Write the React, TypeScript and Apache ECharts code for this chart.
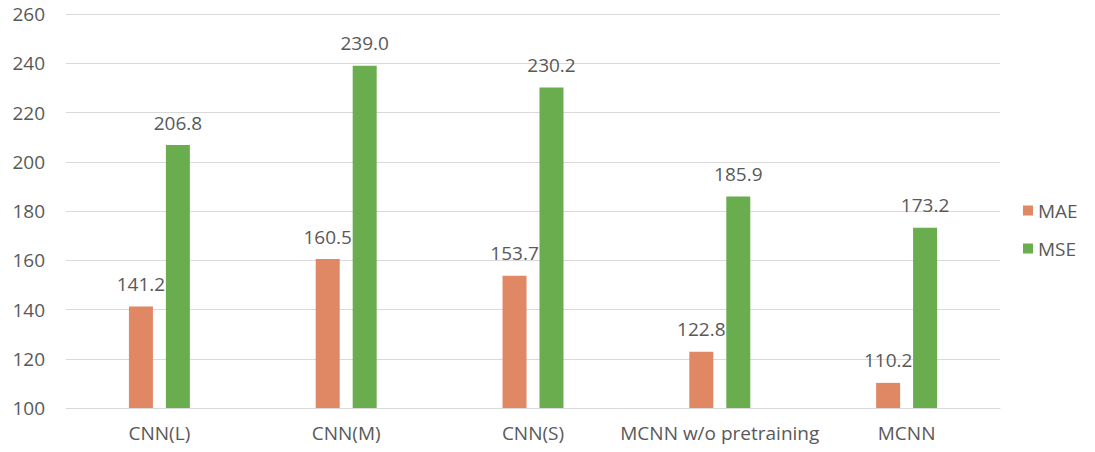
import React, { useEffect, useRef } from "react";
import * as echarts from "echarts";

const categories = ["CNN(L)", "CNN(M)", "CNN(S)", "MCNN w/o pretraining", "MCNN"];
const maeValues = [141.2, 160.5, 153.7, 122.8, 110.2];
const mseValues = [206.8, 239.0, 230.2, 185.9, 173.2];
const seriesNames = ["MAE", "MSE"];

export default function App() {
  const ref = useRef<HTMLDivElement>(null);
  useEffect(() => {
    if (!ref.current) return;
    const chart = echarts.init(ref.current, null, { renderer: "svg" });
    const font = "'Open Sans', 'Noto Sans', sans-serif";
    const fs = 19;
    const label = {
      show: true,
      position: "top" as const,
      distance: 13,
      color: "#595959",
      fontSize: fs,
      fontFamily: font,
      formatter: (p: any) => Number(p.value).toFixed(1),
    };
    chart.setOption({
      animation: false,
      backgroundColor: "#ffffff",
      grid: { left: 66, right: 95, top: 14, bottom: 44, containLabel: false },
      legend: {
        orient: "vertical",
        left: 1018,
        top: 196,
        itemWidth: 10,
        itemHeight: 10,
        itemGap: 19,
        icon: "rect",
        textStyle: { color: "#595959", fontSize: fs, fontFamily: font },
        data: seriesNames,
      },
      xAxis: {
        type: "category",
        data: categories,
        axisLine: { show: true, lineStyle: { color: "#d9d9d9", width: 1 } },
        axisTick: { show: false },
        axisLabel: { color: "#595959", fontSize: fs, fontFamily: font, margin: 15, interval: 0 },
      },
      yAxis: {
        type: "value",
        min: 100,
        max: 260,
        interval: 20,
        axisLine: { show: false },
        axisTick: { show: false },
        splitLine: { lineStyle: { color: "#d9d9d9", width: 1 } },
        axisLabel: { color: "#595959", fontSize: fs, fontFamily: font, margin: 21 },
      },
      series: [
        {
          name: seriesNames[0],
          type: "bar",
          data: maeValues,
          barWidth: 24,
          barGap: "54%",
          itemStyle: { color: "#E08763" },
          label,
        },
        {
          name: seriesNames[1],
          type: "bar",
          data: mseValues,
          barWidth: 24,
          itemStyle: { color: "#6AAD4F" },
          label,
        },
      ],
    });
    return () => chart.dispose();
  }, []);
  return <div ref={ref} style={{ width: 1095, height: 452, position: "absolute", left: 0, top: 0 }} />;
}
